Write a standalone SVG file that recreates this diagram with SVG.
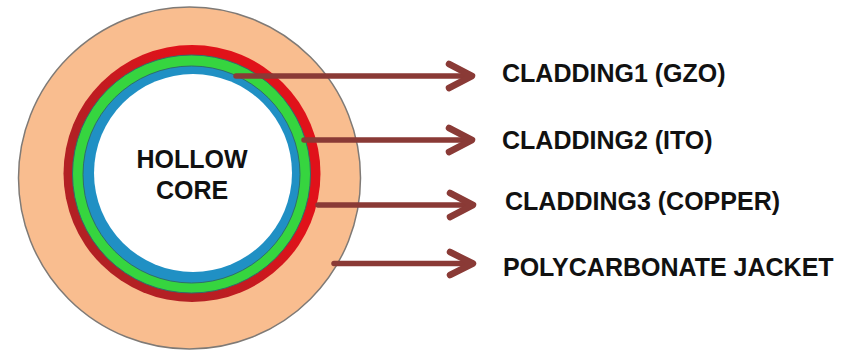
<svg xmlns="http://www.w3.org/2000/svg" width="850" height="350" viewBox="0 0 850 350">
<defs><linearGradient id="red" x1="0" y1="1" x2="1" y2="0.3"><stop offset="0.35" stop-color="#b32024"/><stop offset="0.75" stop-color="#e0121a"/></linearGradient></defs>
<style>
text{font-family:"Liberation Sans",Arial,sans-serif;font-weight:bold;fill:#111;font-size:25px}
.c{text-anchor:middle}
.a{fill:none;stroke:#8a3a36;stroke-width:5.5;stroke-linecap:round;stroke-linejoin:round}
.h{stroke-width:6.5}
.e{stroke:#2f6f6a;stroke-width:1}
</style>
<rect width="850" height="350" fill="#fff"/>
<g id="jacket"><circle cx="189.500" cy="178" r="171" fill="#f9bd8f" stroke="#7f7a76" stroke-width="1.500"/></g>
<g id="cladding3"><circle cx="192" cy="173.500" r="128.500" fill="url(#red)"/></g>
<g id="cladding2"><circle cx="191.500" cy="174" r="119" fill="#36d53f" class="e"/></g>
<g id="cladding1"><circle cx="191.500" cy="174.500" r="108.500" fill="#2090c4" class="e"/></g>
<g id="core"><circle cx="193" cy="173" r="99" fill="#fff"/><text class="c" x="192" y="168">HOLLOW</text><text class="c" x="192" y="198.500">CORE</text></g>
<g id="connectors">
<path class="a" d="M236 76H470"/><path class="a h" d="M449 64L472 76L449 88"/>
<path class="a" d="M304 140H470"/><path class="a h" d="M449 128L472 140L449 152"/>
<path class="a" d="M318 205H470"/><path class="a h" d="M450 193L473 205L450 217"/>
<path class="a" d="M334 263.500H470"/><path class="a h" d="M450 252L473 263.500L450 275"/>
</g>
<g id="label1"><text x="502" y="82">CLADDING1 (GZO)</text></g>
<g id="label2"><text x="502" y="149">CLADDING2 (ITO)</text></g>
<g id="label3"><text x="505" y="210">CLADDING3 (COPPER)</text></g>
<g id="label4"><text x="503" y="276">POLYCARBONATE JACKET</text></g>
</svg>
